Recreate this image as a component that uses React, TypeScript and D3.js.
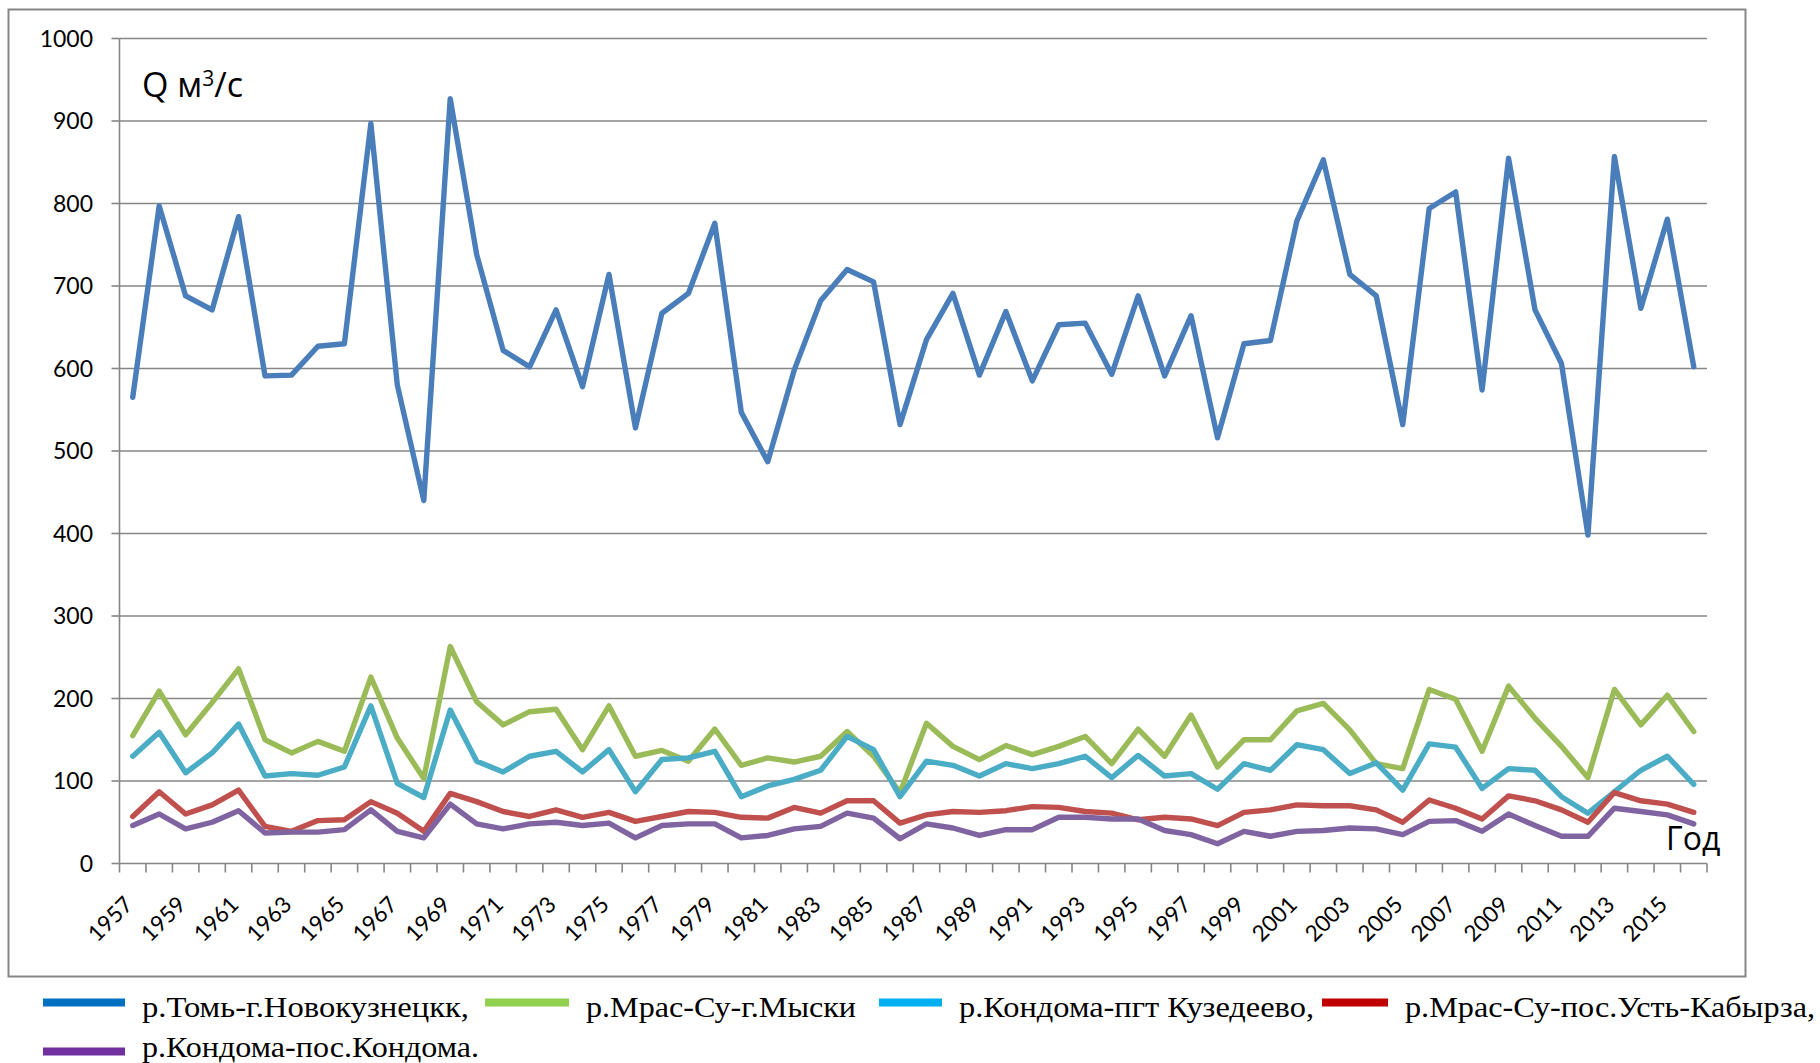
import * as React from 'react'
import * as d3 from 'd3'

// years on the category axis
const years: number[] = d3.range(1957, 2017)

// Q, m3/s
const tomNovokuznetsk = [565, 797, 688, 671, 784, 591, 592, 627, 630, 897, 580, 440, 927, 738, 622, 602, 671, 578, 714, 528,
  667, 691, 776, 547, 487, 598, 682, 720, 705, 532, 635, 691, 592, 669, 585, 653, 655, 593, 688, 591,
  664, 516, 630, 634, 779, 853, 714, 688, 532, 794, 814, 574, 855, 671, 606, 398, 857, 673, 781, 602]
const mrasMyski = [155, 209, 156, 195, 236, 150, 134, 148, 136, 226, 152, 103, 263, 196, 168, 184, 187, 138, 191, 130,
  137, 124, 163, 119, 128, 123, 130, 160, 130, 86, 170, 142, 126, 143, 132, 142, 154, 121, 163, 130,
  180, 117, 150, 150, 185, 194, 162, 121, 115, 211, 199, 136, 215, 176, 142, 104, 211, 168, 204, 160]
const kondomaKuzedeevo = [130, 159, 110, 134, 169, 106, 109, 107, 117, 191, 97, 80, 186, 124, 111, 130, 136, 111, 138, 87,
  126, 128, 136, 81, 94, 102, 113, 154, 138, 81, 124, 119, 106, 121, 115, 121, 130, 104, 131, 106,
  109, 90, 121, 113, 144, 138, 109, 122, 89, 145, 141, 91, 115, 113, 81, 61, 87, 113, 130, 96]
const mrasKabyrza = [57, 87, 60, 71, 89, 45, 39, 52, 53, 75, 61, 39, 85, 75, 63, 57, 65, 56, 62, 51,
  57, 63, 62, 56, 55, 68, 61, 76, 76, 49, 59, 63, 62, 64, 69, 68, 63, 61, 53, 56,
  54, 46, 62, 65, 71, 70, 70, 65, 50, 77, 67, 54, 82, 76, 65, 50, 86, 76, 72, 62]
const kondomaKondoma = [46, 60, 42, 50, 64, 37, 38, 38, 41, 65, 39, 31, 72, 48, 42, 48, 50, 46, 49, 31,
  46, 48, 48, 31, 34, 42, 45, 61, 55, 30, 48, 43, 34, 41, 41, 56, 56, 54, 54, 40,
  35, 24, 39, 33, 39, 40, 43, 42, 35, 51, 52, 39, 60, 46, 33, 33, 67, 63, 59, 48]

const seriesNames = [
  'р.Томь-г.Новокузнецкк,',
  'р.Мрас-Су-г.Мыски',
  'р.Кондома-пгт Кузедеево,',
  'р.Мрас-Су-пос.Усть-Кабырза,',
  'р.Кондома-пос.Кондома.',
]
const seriesValues = [tomNovokuznetsk, mrasMyski, kondomaKuzedeevo, mrasKabyrza, kondomaKondoma]
const lineColors = ['#4A7EBB', '#9BBB59', '#4BACC6', '#C0504D', '#8064A2']
const legendColors = ['#0070C0', '#92D050', '#00B0F0', '#C00000', '#7030A0']

const W = 1820
const H = 1063
const left = 119.5
const right = 1707
const top = 38.5
const bottom = 863.5
const grid = '#868686'

// legend layout: [swatch x, text x, row, text width]
const legendLayout = [
  [43, 142, 0, 327],
  [485, 586, 0, 270],
  [879, 959, 0, 355],
  [1322, 1405, 0, 410],
  [43, 142, 1, 337],
]

export default function App() {
  const x = d3.scaleBand<number>().domain(years).range([left, right]).padding(0)
  const y = d3.scaleLinear().domain([0, 1000]).range([bottom, top])
  const bw = x.bandwidth()
  const cx = (yr: number) => (x(yr) as number) + bw / 2

  const line = d3.line<number>()
    .x((_, i) => cx(years[i]))
    .y(d => y(d))

  const yTicks = y.ticks(10)
  const boundaries = d3.range(years.length + 1).map(k => left + k * bw)

  return (
    <svg width={W} height={H} style={{ position: 'absolute', left: 0, top: 0, background: '#fff' }}>
      <rect x={0} y={0} width={W} height={H} fill="#fff" />
      <rect x={8.5} y={9.5} width={1737} height={967} fill="none" stroke={grid} strokeWidth={2} />

      {/* gridlines */}
      {yTicks.map(t => (
        <g key={t}>
          {t > 0 && <line x1={left} x2={right} y1={y(t)} y2={y(t)} stroke={grid} strokeWidth={1.6} />}
          <line x1={left - 8} x2={left} y1={y(t)} y2={y(t)} stroke={grid} strokeWidth={1.6} />
          <text x={93} y={y(t)} dy="0.36em" textAnchor="end" fontFamily="Lato, 'Open Sans', sans-serif"
            fontSize={23} fill="#000">{t}</text>
        </g>
      ))}

      {/* axes */}
      <line x1={left} x2={left} y1={top} y2={bottom} stroke={grid} strokeWidth={1.6} />
      <line x1={left} x2={right} y1={bottom} y2={bottom} stroke={grid} strokeWidth={1.6} />
      {boundaries.map((b, k) => (
        <line key={k} x1={b} x2={b} y1={bottom} y2={bottom + 9} stroke={grid} strokeWidth={1.6} />
      ))}
      {years.filter((_, i) => i % 2 === 0).map(yr => (
        <text key={yr} transform={`translate(${cx(yr) + 1.5},${906}) rotate(-45)`} textAnchor="end"
          fontFamily="Lato, 'Open Sans', sans-serif" fontSize={22.5} fill="#000">{yr}</text>
      ))}

      {/* series */}
      {seriesValues.map((vals, s) => (
        <path key={s} d={line(vals) || ''} fill="none" stroke={lineColors[s]} strokeWidth={5.4}
          strokeLinejoin="round" strokeLinecap="round" />
      ))}

      {/* titles */}
      <text x={142} y={97} fontFamily="'Open Sans', sans-serif" fontSize={34} fill="#000">
        Q м<tspan fontSize={21} dy={-11}>3</tspan><tspan dy={11}>/с</tspan>
      </text>
      <text x={1666} y={850} fontFamily="'Open Sans', sans-serif" fontSize={32} fill="#000">Год</text>

      {/* legend */}
      {seriesNames.map((name, s) => {
        const [sx, tx, row, tw] = legendLayout[s]
        const rowY = row === 0 ? 1002.5 : 1051.5
        const baseY = row === 0 ? 1017 : 1057
        return (
          <g key={name}>
            <rect x={sx} y={rowY - 4} width={tx - sx - 17} height={8} fill={legendColors[s]} />
            <text x={tx} y={baseY} fontFamily="'Liberation Serif', 'Times New Roman', serif" fontSize={30}
              textLength={tw} lengthAdjust="spacingAndGlyphs" fill="#000">{name}</text>
          </g>
        )
      })}
    </svg>
  )
}
